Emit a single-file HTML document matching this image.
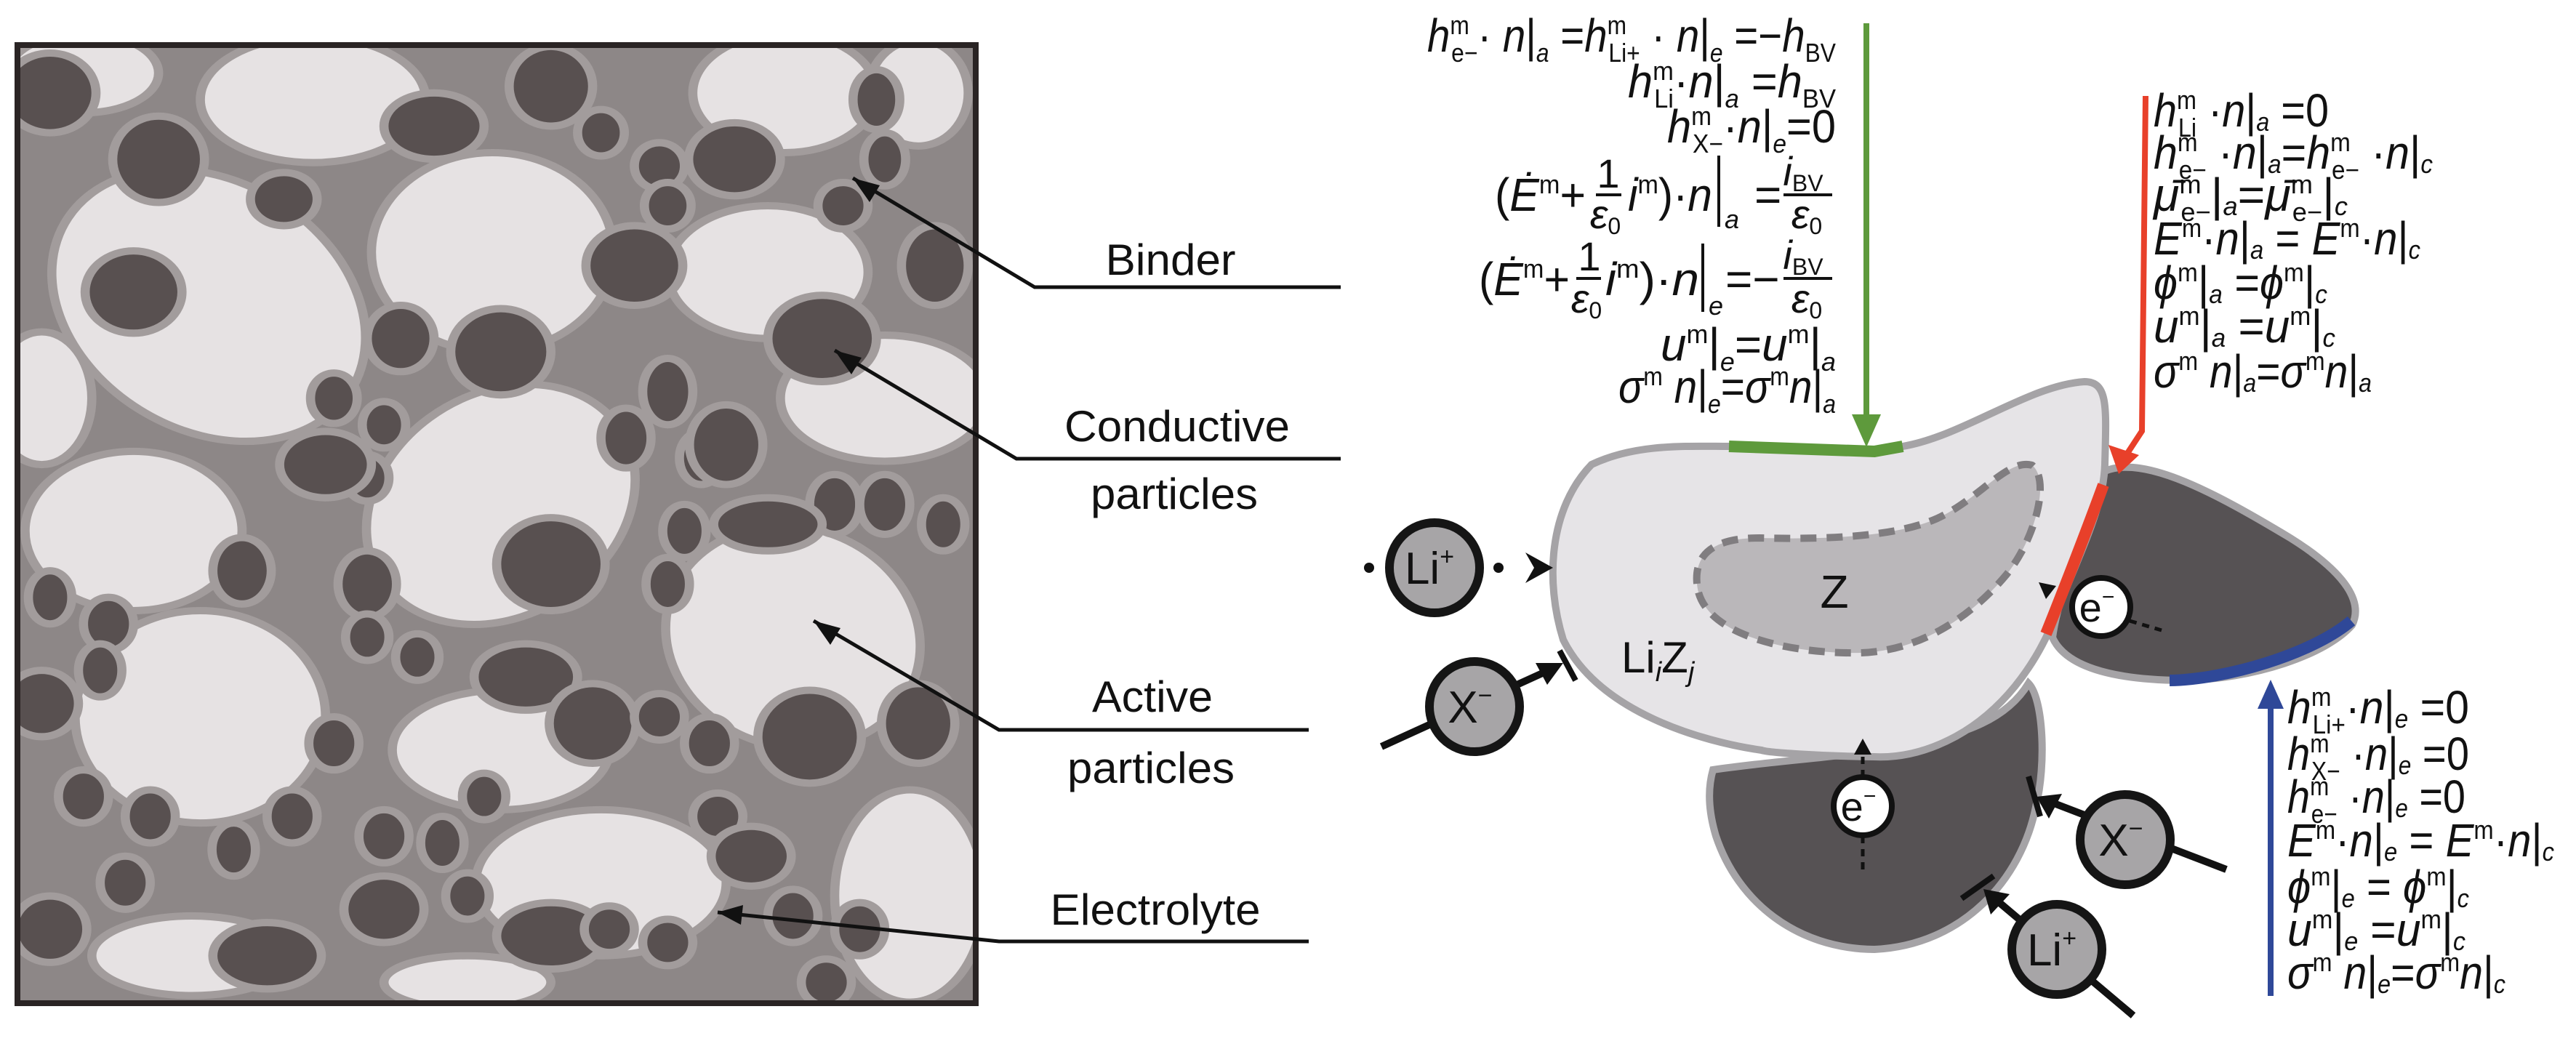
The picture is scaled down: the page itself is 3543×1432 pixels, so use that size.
<!DOCTYPE html>
<html><head><meta charset="utf-8"><style>
html,body{margin:0;padding:0;background:#fff;}
svg{display:block;}
text{font-family:"Liberation Sans",sans-serif;fill:#111;}
.eq{font-size:64px;}
.eq tspan[font-size="34"]{font-size:36px;}
.i{font-style:italic;}
</style></head><body>
<svg width="3543" height="1432" viewBox="0 0 3543 1432" xmlns="http://www.w3.org/2000/svg">
<defs>
<clipPath id="cb"><rect x="24" y="65" width="1319" height="1313"/></clipPath>
</defs>
<rect x="21" y="59" width="1324" height="1324" fill="#8d8787"/>
<g clip-path="url(#cb)">
<g transform="scale(1.148,0.913)" stroke="#a29c9c" stroke-width="11">
<g fill="#e6e2e3">
<ellipse cx="100" cy="110" rx="90" ry="60"/>
<ellipse cx="375" cy="150" rx="135" ry="95"/>
<ellipse cx="250" cy="460" rx="170" ry="220" transform="rotate(-35 250 460)"/>
<ellipse cx="590" cy="380" rx="145" ry="150"/>
<ellipse cx="940" cy="140" rx="110" ry="90"/>
<ellipse cx="920" cy="410" rx="120" ry="100"/>
<ellipse cx="1060" cy="600" rx="125" ry="95"/>
<ellipse cx="600" cy="760" rx="150" ry="190" transform="rotate(30 600 760)"/>
<ellipse cx="160" cy="800" rx="130" ry="120"/>
<ellipse cx="50" cy="600" rx="60" ry="100"/>
<ellipse cx="240" cy="1080" rx="150" ry="160"/>
<ellipse cx="950" cy="960" rx="150" ry="170" transform="rotate(-20 950 960)"/>
<ellipse cx="600" cy="1130" rx="130" ry="90"/>
<ellipse cx="720" cy="1330" rx="150" ry="110"/>
<ellipse cx="1090" cy="1350" rx="90" ry="160"/>
<ellipse cx="230" cy="1440" rx="120" ry="60"/>
<ellipse cx="560" cy="1480" rx="100" ry="40"/>
<ellipse cx="1100" cy="140" rx="60" ry="80"/>
</g>
<g fill="#585050">
<ellipse cx="60" cy="140" rx="55" ry="60"/><ellipse cx="190" cy="240" rx="55" ry="65"/><ellipse cx="340" cy="300" rx="40" ry="40"/><ellipse cx="520" cy="190" rx="60" ry="50"/><ellipse cx="660" cy="130" rx="50" ry="60"/><ellipse cx="720" cy="200" rx="28" ry="35"/><ellipse cx="790" cy="250" rx="30" ry="35"/><ellipse cx="800" cy="310" rx="28" ry="35"/><ellipse cx="880" cy="240" rx="55" ry="55"/><ellipse cx="1050" cy="150" rx="28" ry="45"/><ellipse cx="1060" cy="240" rx="25" ry="40"/><ellipse cx="1010" cy="310" rx="30" ry="35"/><ellipse cx="1120" cy="400" rx="40" ry="60"/><ellipse cx="160" cy="440" rx="58" ry="62"/><ellipse cx="760" cy="400" rx="58" ry="60"/><ellipse cx="985" cy="510" rx="65" ry="65"/><ellipse cx="600" cy="530" rx="60" ry="65"/><ellipse cx="480" cy="510" rx="40" ry="50"/><ellipse cx="400" cy="600" rx="28" ry="38"/><ellipse cx="460" cy="640" rx="26" ry="35"/><ellipse cx="440" cy="720" rx="26" ry="35"/><ellipse cx="390" cy="700" rx="55" ry="50"/><ellipse cx="750" cy="660" rx="30" ry="45"/><ellipse cx="800" cy="590" rx="30" ry="50"/><ellipse cx="840" cy="690" rx="26" ry="40"/><ellipse cx="870" cy="670" rx="44" ry="60"/><ellipse cx="1000" cy="760" rx="30" ry="45"/><ellipse cx="1130" cy="790" rx="26" ry="40"/><ellipse cx="1060" cy="760" rx="30" ry="45"/><ellipse cx="660" cy="850" rx="65" ry="70"/><ellipse cx="800" cy="880" rx="26" ry="40"/><ellipse cx="820" cy="800" rx="26" ry="40"/><ellipse cx="920" cy="790" rx="65" ry="40"/><ellipse cx="290" cy="860" rx="35" ry="50"/><ellipse cx="60" cy="900" rx="26" ry="40"/><ellipse cx="130" cy="940" rx="30" ry="40"/><ellipse cx="440" cy="880" rx="35" ry="50"/><ellipse cx="440" cy="960" rx="26" ry="35"/><ellipse cx="500" cy="990" rx="26" ry="35"/><ellipse cx="630" cy="1020" rx="62" ry="50"/><ellipse cx="120" cy="1010" rx="26" ry="40"/><ellipse cx="50" cy="1060" rx="44" ry="50"/><ellipse cx="400" cy="1120" rx="30" ry="40"/><ellipse cx="710" cy="1090" rx="52" ry="60"/><ellipse cx="790" cy="1080" rx="30" ry="35"/><ellipse cx="850" cy="1120" rx="30" ry="40"/><ellipse cx="970" cy="1110" rx="62" ry="70"/><ellipse cx="1100" cy="1090" rx="44" ry="60"/><ellipse cx="100" cy="1200" rx="30" ry="40"/><ellipse cx="180" cy="1230" rx="30" ry="40"/><ellipse cx="280" cy="1280" rx="26" ry="40"/><ellipse cx="350" cy="1230" rx="30" ry="40"/><ellipse cx="460" cy="1260" rx="30" ry="40"/><ellipse cx="530" cy="1270" rx="26" ry="40"/><ellipse cx="580" cy="1200" rx="26" ry="35"/><ellipse cx="460" cy="1370" rx="48" ry="50"/><ellipse cx="150" cy="1330" rx="30" ry="40"/><ellipse cx="60" cy="1400" rx="44" ry="50"/><ellipse cx="320" cy="1440" rx="65" ry="50"/><ellipse cx="560" cy="1350" rx="26" ry="35"/><ellipse cx="660" cy="1410" rx="65" ry="50"/><ellipse cx="730" cy="1400" rx="30" ry="35"/><ellipse cx="800" cy="1420" rx="30" ry="35"/><ellipse cx="860" cy="1230" rx="30" ry="35"/><ellipse cx="900" cy="1290" rx="48" ry="45"/><ellipse cx="950" cy="1380" rx="30" ry="40"/><ellipse cx="1030" cy="1400" rx="30" ry="40"/><ellipse cx="990" cy="1480" rx="30" ry="35"/>
</g>
</g>
</g>
<rect x="24" y="62" width="1318" height="1318" fill="none" stroke="#2a2424" stroke-width="8"/>

<g stroke="#111" stroke-width="5" fill="none">
<polyline points="1173,245 1423,395 1844,395"/>
<polyline points="1148,482 1398,631 1844,631"/>
<polyline points="1119,854 1374,1004 1800,1004"/>
<polyline points="987,1255 1374,1295 1800,1295"/>
</g>
<g fill="#111">
<polygon points="1173,245 1210,255 1196,278"/>
<polygon points="1148,482 1185,492 1171,515"/>
<polygon points="1119,854 1156,864 1142,887"/>
<polygon points="987,1255 1022,1245 1019,1272"/>
</g>
<g font-size="60">
<text x="1610" y="378" text-anchor="middle" textLength="179" lengthAdjust="spacingAndGlyphs">Binder</text>
<text x="1619" y="607" text-anchor="middle" textLength="310" lengthAdjust="spacingAndGlyphs">Conductive</text>
<text x="1615" y="700" text-anchor="middle" textLength="230" lengthAdjust="spacingAndGlyphs">particles</text>
<text x="1585" y="979" text-anchor="middle" textLength="166" lengthAdjust="spacingAndGlyphs">Active</text>
<text x="1583" y="1077" text-anchor="middle" textLength="230" lengthAdjust="spacingAndGlyphs">particles</text>
<text x="1589" y="1272" text-anchor="middle" textLength="289" lengthAdjust="spacingAndGlyphs">Electrolyte</text>
</g>

<path d="M2356,1059 C2450,1045 2560,1040 2634,1023 C2700,1010 2760,990 2790,940 C2810,960 2815,1050 2800,1110 C2780,1210 2700,1300 2578,1306 C2470,1305 2390,1240 2360,1150 C2348,1110 2350,1080 2356,1059 Z" fill="#565254" stroke="#a5a3a6" stroke-width="10"/>
<path d="M2895,648 C2950,625 3050,680 3150,740 C3230,790 3250,830 3235,860 C3200,900 3100,935 3000,936 C2900,935 2840,915 2823,877 C2830,820 2870,720 2895,648 Z" fill="#565254" stroke="#a5a3a6" stroke-width="10"/>
<path d="M2189,639 C2250,610 2320,614 2378,614 L2578,621 L2617,614 C2700,600 2790,530 2867,525 C2900,525 2897,560 2895,639 C2893,700 2860,760 2830,840 C2800,920 2750,980 2690,1013 C2640,1040 2600,1042 2578,1041 C2500,1040 2430,1035 2423,1032 C2340,1020 2200,980 2150,880 C2125,800 2130,700 2189,639 Z" fill="#e6e4e7" stroke="#a5a3a6" stroke-width="10"/>
<path d="M2334,803 C2330,760 2360,740 2420,740 C2500,742 2600,740 2660,715 C2720,690 2760,630 2795,640 C2820,660 2800,740 2760,790 C2710,850 2640,895 2560,898 C2480,900 2340,880 2334,803 Z" fill="#bab7ba" stroke="#807d80" stroke-width="10" stroke-dasharray="22,14"/>
<path d="M2378,614 L2578,621 L2617,614" fill="none" stroke="#5e9a3c" stroke-width="16"/>
<path d="M2893,667 C2870,730 2835,820 2814,872" fill="none" stroke="#e8402a" stroke-width="16"/>
<path d="M2984,936 C3060,935 3180,900 3234,854" fill="none" stroke="#2f4898" stroke-width="16"/>

<line x1="2567" y1="32" x2="2567" y2="580" stroke="#5e9a3c" stroke-width="8"/>
<polygon points="2547,570 2587,570 2567,615" fill="#5e9a3c"/>
<polyline points="2951,132 2946,593 2925,625" fill="none" stroke="#e8402a" stroke-width="8"/>
<polygon points="2900,612 2942,626 2914,652" fill="#e8402a"/>
<line x1="3123" y1="1370" x2="3123" y2="970" stroke="#2f4898" stroke-width="8"/>
<polygon points="3105,975 3141,975 3123,935" fill="#2f4898"/>

<text x="2523" y="836" font-size="64" text-anchor="middle">Z</text>
<text x="2230" y="925" font-size="60">Li<tspan class="i" font-size="38" dy="12">i</tspan><tspan dy="-12">Z</tspan><tspan class="i" font-size="38" dy="12">j</tspan></text>

<g stroke="#111" stroke-width="10" fill="none">
<line x1="1900" y1="1027" x2="2128" y2="923"/>
<line x1="3062" y1="1196" x2="2825" y2="1105"/>
<line x1="2934" y1="1397" x2="2748" y2="1240"/>
<line x1="2145" y1="895" x2="2167" y2="936" stroke-width="8"/>
<line x1="2790" y1="1068" x2="2806" y2="1123" stroke-width="8"/>
<line x1="2698" y1="1236" x2="2742" y2="1205" stroke-width="8"/>
</g>
<g fill="#111">
<polygon points="2150,912 2112,912 2128,942"/>
<polygon points="2801,1096 2818,1126 2836,1092"/>
<polygon points="2728,1223 2738,1258 2764,1230"/>
<polygon points="2098,760 2136,781 2098,802 2110,781"/>
<circle cx="1883" cy="781" r="7"/><circle cx="2061" cy="781" r="7"/>
</g>
<g fill="#a7a5a7" stroke="#151515" stroke-width="12">
<circle cx="1973" cy="781" r="62"/>
<circle cx="2028" cy="972" r="62"/>
<circle cx="2923" cy="1155" r="62"/>
<circle cx="2829" cy="1306" r="62"/>
</g>
<g font-size="62" text-anchor="middle">
<text x="1966" y="803">Li<tspan font-size="34" dy="-26">+</tspan></text>
<text x="2022" y="994">X<tspan font-size="34" dy="-26">−</tspan></text>
<text x="2917" y="1177">X<tspan font-size="34" dy="-26">−</tspan></text>
<text x="2822" y="1328">Li<tspan font-size="34" dy="-26">+</tspan></text>
</g>
<g stroke="#111" stroke-width="5" stroke-dasharray="10,8" fill="none">
<line x1="2929" y1="854" x2="2973" y2="867"/>
<line x1="2562" y1="1069" x2="2562" y2="1035"/>
<line x1="2562" y1="1150" x2="2562" y2="1200"/>
</g>
<polygon points="2550,1038 2574,1038 2562,1016" fill="#111"/>
<polygon points="2804,801 2828,806 2814,824" fill="#111"/>
<g fill="#fff" stroke="#111" stroke-width="8">
<circle cx="2890" cy="835" r="40"/>
<circle cx="2562" cy="1109" r="40"/>
</g>
<g font-size="56" text-anchor="middle">
<text x="2884" y="855">e<tspan font-size="30" dy="-24">−</tspan></text>
<text x="2556" y="1129">e<tspan font-size="30" dy="-24">−</tspan></text>
</g>

<g class="eq" text-anchor="end">
<text x="2525" y="71" textLength="562" lengthAdjust="spacingAndGlyphs"><tspan class="i">h</tspan><tspan font-size="34" dy="-24">m</tspan><tspan font-size="34" dx="-28" dy="38">e−</tspan><tspan dy="-14">·</tspan><tspan class="i"> n</tspan>|<tspan class="i" font-size="34" dy="14">a</tspan><tspan dy="-14"> =</tspan><tspan class="i">h</tspan><tspan font-size="34" dy="-24">m</tspan><tspan font-size="34" dx="-28" dy="38">Li+</tspan><tspan dy="-14"> · </tspan><tspan class="i">n</tspan>|<tspan class="i" font-size="34" dy="14">e</tspan><tspan dy="-14"> =−</tspan><tspan class="i">h</tspan><tspan font-size="34" dy="14">BV</tspan></text>
<text x="2525" y="134" textLength="286" lengthAdjust="spacingAndGlyphs"><tspan class="i">h</tspan><tspan font-size="34" dy="-24">m</tspan><tspan font-size="34" dx="-28" dy="38">Li</tspan><tspan dy="-14">·</tspan><tspan class="i">n</tspan>|<tspan class="i" font-size="34" dy="14">a</tspan><tspan dy="-14"> =</tspan><tspan class="i">h</tspan><tspan font-size="34" dy="14">BV</tspan></text>
<text x="2525" y="196" textLength="232" lengthAdjust="spacingAndGlyphs"><tspan class="i">h</tspan><tspan font-size="34" dy="-24">m</tspan><tspan font-size="34" dx="-28" dy="38">X−</tspan><tspan dy="-14">·</tspan><tspan class="i">n</tspan>|<tspan class="i" font-size="34" dy="14">e</tspan><tspan dy="-14">=0</tspan></text>
<text x="2525" y="496" textLength="241" lengthAdjust="spacingAndGlyphs"><tspan class="i">u</tspan><tspan font-size="34" dy="-24">m</tspan><tspan dy="24">|</tspan><tspan class="i" font-size="34" dy="14">e</tspan><tspan dy="-14">=</tspan><tspan class="i">u</tspan><tspan font-size="34" dy="-24">m</tspan><tspan dy="24">|</tspan><tspan class="i" font-size="34" dy="14">a</tspan></text>
<text x="2525" y="554" textLength="299" lengthAdjust="spacingAndGlyphs"><tspan class="i">σ</tspan><tspan font-size="34" dy="-24">m</tspan><tspan class="i" dy="24"> n</tspan>|<tspan class="i" font-size="34" dy="14">e</tspan><tspan dy="-14">=</tspan><tspan class="i">σ</tspan><tspan font-size="34" dy="-24">m</tspan><tspan class="i" dy="24">n</tspan>|<tspan class="i" font-size="34" dy="14">a</tspan></text>
</g>
<g class="eq">
<text x="2056" y="290" textLength="125" lengthAdjust="spacingAndGlyphs">(<tspan class="i">Ė</tspan><tspan font-size="34" dy="-24">m</tspan><tspan dy="24">+</tspan></text>
<text x="2212" y="258" text-anchor="middle" font-size="56">1</text>
<text x="2208" y="314" text-anchor="middle" font-size="56"><tspan class="i">ε</tspan><tspan font-size="32" dy="8">0</tspan></text>
<text x="2239" y="290" textLength="116" lengthAdjust="spacingAndGlyphs"><tspan class="i">i</tspan><tspan font-size="34" dy="-24">m</tspan><tspan dy="24">)·</tspan><tspan class="i">n</tspan></text>
<text x="2372" y="314" class="i" font-size="36">a</text>
<text x="2413" y="290">=</text>
<text x="2480" y="255" text-anchor="middle" font-size="56"><tspan class="i">i</tspan><tspan font-size="32" dy="8">BV</tspan></text>
<text x="2485" y="314" text-anchor="middle" font-size="56"><tspan class="i">ε</tspan><tspan font-size="32" dy="8">0</tspan></text>

<text x="2034" y="406" textLength="125" lengthAdjust="spacingAndGlyphs">(<tspan class="i">Ė</tspan><tspan font-size="34" dy="-24">m</tspan><tspan dy="24">+</tspan></text>
<text x="2186" y="372" text-anchor="middle" font-size="56">1</text>
<text x="2182" y="430" text-anchor="middle" font-size="56"><tspan class="i">ε</tspan><tspan font-size="32" dy="8">0</tspan></text>
<text x="2208" y="406" textLength="129" lengthAdjust="spacingAndGlyphs"><tspan class="i">i</tspan><tspan font-size="34" dy="-24">m</tspan><tspan dy="24">)·</tspan><tspan class="i">n</tspan></text>
<text x="2350" y="433" class="i" font-size="36">e</text>
<text x="2373" y="406">=−</text>
<text x="2480" y="370" text-anchor="middle" font-size="56"><tspan class="i">i</tspan><tspan font-size="32" dy="8">BV</tspan></text>
<text x="2485" y="430" text-anchor="middle" font-size="56"><tspan class="i">ε</tspan><tspan font-size="32" dy="8">0</tspan></text>
</g>
<g stroke="#111" stroke-width="4">
<line x1="2195" y1="268" x2="2230" y2="268"/>
<line x1="2453" y1="268" x2="2520" y2="268"/>
<line x1="2364" y1="214" x2="2364" y2="312"/>
<line x1="2168" y1="383" x2="2202" y2="383"/>
<line x1="2453" y1="383" x2="2520" y2="383"/>
<line x1="2342" y1="335" x2="2342" y2="429"/>
</g>

<g class="eq">
<text x="2962" y="174" textLength="241" lengthAdjust="spacingAndGlyphs"><tspan class="i">h</tspan><tspan font-size="34" dy="-24">m</tspan><tspan font-size="34" dx="-28" dy="38">Li</tspan><tspan dy="-14"> ·</tspan><tspan class="i">n</tspan>|<tspan class="i" font-size="34" dy="6">a</tspan><tspan dy="-6"> =0</tspan></text>
<text x="2962" y="232" textLength="384" lengthAdjust="spacingAndGlyphs"><tspan class="i">h</tspan><tspan font-size="34" dy="-24">m</tspan><tspan font-size="34" dx="-28" dy="38">e−</tspan><tspan dy="-14"> ·</tspan><tspan class="i">n</tspan>|<tspan class="i" font-size="34" dy="6">a</tspan><tspan dy="-6">=</tspan><tspan class="i">h</tspan><tspan font-size="34" dy="-24">m</tspan><tspan font-size="34" dx="-28" dy="38">e−</tspan><tspan dy="-14"> ·</tspan><tspan class="i">n</tspan>|<tspan class="i" font-size="34" dy="6">c</tspan></text>
<text x="2962" y="290" textLength="267" lengthAdjust="spacingAndGlyphs"><tspan class="i">μ̄</tspan><tspan font-size="34" dy="-24">m</tspan><tspan font-size="34" dx="-28" dy="38">e−</tspan><tspan dy="-14">|</tspan><tspan class="i" font-size="34" dy="6">a</tspan><tspan dy="-6">=</tspan><tspan class="i">μ̄</tspan><tspan font-size="34" dy="-24">m</tspan><tspan font-size="34" dx="-28" dy="38">e−</tspan><tspan dy="-14">|</tspan><tspan class="i" font-size="34" dy="6">c</tspan></text>
<text x="2962" y="350" textLength="367" lengthAdjust="spacingAndGlyphs"><tspan class="i">E</tspan><tspan font-size="34" dy="-24">m</tspan><tspan dy="24">·</tspan><tspan class="i">n</tspan>|<tspan class="i" font-size="34" dy="6">a</tspan><tspan dy="-6"> = </tspan><tspan class="i">E</tspan><tspan font-size="34" dy="-24">m</tspan><tspan dy="24">·</tspan><tspan class="i">n</tspan>|<tspan class="i" font-size="34" dy="6">c</tspan></text>
<text x="2962" y="411" textLength="239" lengthAdjust="spacingAndGlyphs"><tspan class="i">ϕ</tspan><tspan font-size="34" dy="-24">m</tspan><tspan dy="24">|</tspan><tspan class="i" font-size="34" dy="6">a</tspan><tspan dy="-6"> =</tspan><tspan class="i">ϕ</tspan><tspan font-size="34" dy="-24">m</tspan><tspan dy="24">|</tspan><tspan class="i" font-size="34" dy="6">c</tspan></text>
<text x="2962" y="471" textLength="250" lengthAdjust="spacingAndGlyphs"><tspan class="i">u</tspan><tspan font-size="34" dy="-24">m</tspan><tspan dy="24">|</tspan><tspan class="i" font-size="34" dy="6">a</tspan><tspan dy="-6"> =</tspan><tspan class="i">u</tspan><tspan font-size="34" dy="-24">m</tspan><tspan dy="24">|</tspan><tspan class="i" font-size="34" dy="6">c</tspan></text>
<text x="2962" y="533" textLength="300" lengthAdjust="spacingAndGlyphs"><tspan class="i">σ</tspan><tspan font-size="34" dy="-24">m</tspan><tspan class="i" dy="24"> n</tspan>|<tspan class="i" font-size="34" dy="6">a</tspan><tspan dy="-6">=</tspan><tspan class="i">σ</tspan><tspan font-size="34" dy="-24">m</tspan><tspan class="i" dy="24">n</tspan>|<tspan class="i" font-size="34" dy="6">a</tspan></text>
</g>

<g class="eq">
<text x="3146" y="995" textLength="250" lengthAdjust="spacingAndGlyphs"><tspan class="i">h</tspan><tspan font-size="34" dy="-24">m</tspan><tspan font-size="34" dx="-28" dy="38">Li+</tspan><tspan dy="-14">·</tspan><tspan class="i">n</tspan>|<tspan class="i" font-size="34" dy="6">e</tspan><tspan dy="-6"> =0</tspan></text>
<text x="3146" y="1059" textLength="250" lengthAdjust="spacingAndGlyphs"><tspan class="i">h</tspan><tspan font-size="34" dy="-24">m</tspan><tspan font-size="34" dx="-28" dy="38">X−</tspan><tspan dy="-14"> ·</tspan><tspan class="i">n</tspan>|<tspan class="i" font-size="34" dy="6">e</tspan><tspan dy="-6"> =0</tspan></text>
<text x="3146" y="1118" textLength="245" lengthAdjust="spacingAndGlyphs"><tspan class="i">h</tspan><tspan font-size="34" dy="-24">m</tspan><tspan font-size="34" dx="-28" dy="38">e−</tspan><tspan dy="-14"> ·</tspan><tspan class="i">n</tspan>|<tspan class="i" font-size="34" dy="6">e</tspan><tspan dy="-6"> =0</tspan></text>
<text x="3146" y="1178" textLength="367" lengthAdjust="spacingAndGlyphs"><tspan class="i">E</tspan><tspan font-size="34" dy="-24">m</tspan><tspan dy="24">·</tspan><tspan class="i">n</tspan>|<tspan class="i" font-size="34" dy="6">e</tspan><tspan dy="-6"> = </tspan><tspan class="i">E</tspan><tspan font-size="34" dy="-24">m</tspan><tspan dy="24">·</tspan><tspan class="i">n</tspan>|<tspan class="i" font-size="34" dy="6">c</tspan></text>
<text x="3146" y="1242" textLength="250" lengthAdjust="spacingAndGlyphs"><tspan class="i">ϕ</tspan><tspan font-size="34" dy="-24">m</tspan><tspan dy="24">|</tspan><tspan class="i" font-size="34" dy="6">e</tspan><tspan dy="-6"> = </tspan><tspan class="i">ϕ</tspan><tspan font-size="34" dy="-24">m</tspan><tspan dy="24">|</tspan><tspan class="i" font-size="34" dy="6">c</tspan></text>
<text x="3146" y="1301" textLength="245" lengthAdjust="spacingAndGlyphs"><tspan class="i">u</tspan><tspan font-size="34" dy="-24">m</tspan><tspan dy="24">|</tspan><tspan class="i" font-size="34" dy="6">e</tspan><tspan dy="-6"> =</tspan><tspan class="i">u</tspan><tspan font-size="34" dy="-24">m</tspan><tspan dy="24">|</tspan><tspan class="i" font-size="34" dy="6">c</tspan></text>
<text x="3146" y="1360" textLength="300" lengthAdjust="spacingAndGlyphs"><tspan class="i">σ</tspan><tspan font-size="34" dy="-24">m</tspan><tspan class="i" dy="24"> n</tspan>|<tspan class="i" font-size="34" dy="6">e</tspan><tspan dy="-6">=</tspan><tspan class="i">σ</tspan><tspan font-size="34" dy="-24">m</tspan><tspan class="i" dy="24">n</tspan>|<tspan class="i" font-size="34" dy="6">c</tspan></text>
</g>
</svg>
</body></html>
